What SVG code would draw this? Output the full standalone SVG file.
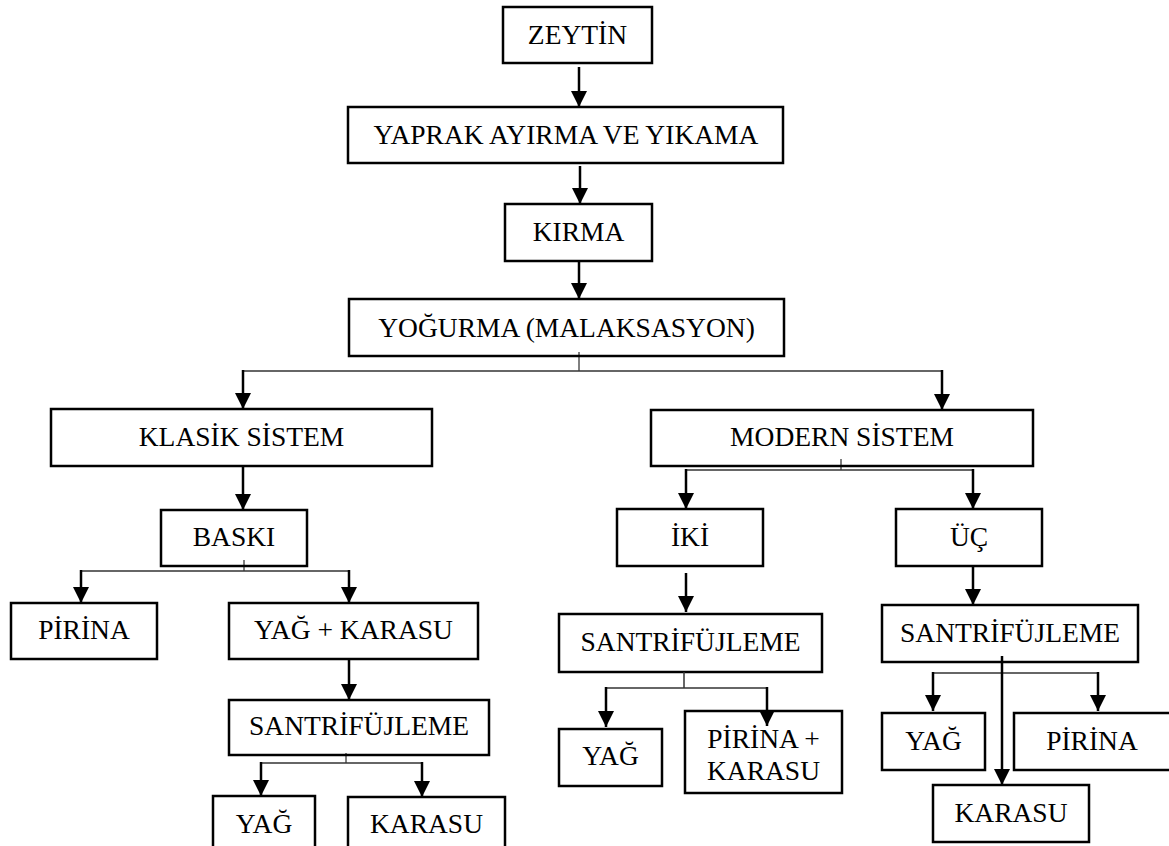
<svg xmlns="http://www.w3.org/2000/svg" width="1169" height="846" viewBox="0 0 1169 846">
<defs>
<style>
.box{fill:#fff;stroke:#000;stroke-width:2.5}
.t{font-family:"Liberation Serif","Times New Roman",serif;font-size:27.5px;text-anchor:middle;fill:#000}
.a{stroke:#000;stroke-width:2.5;fill:none;marker-end:url(#ah)}
.h{stroke:#333;stroke-width:1.5;fill:none}
.tk{stroke:#000;stroke-width:1;fill:none}
</style>
<marker id="ah" markerUnits="userSpaceOnUse" markerWidth="16" markerHeight="16" viewBox="0 0 16 16" refX="16" refY="8" orient="auto">
<path d="M0,0 L16,8 L0,16 z" fill="#000"/>
</marker>
</defs>
<rect width="1169" height="846" fill="#fff"/>
<g id="n-zeytin"><rect class="box" x="503" y="7" width="149" height="56"/><text class="t" x="577.5" y="44">ZEYTİN</text></g>
<g id="n-yaprak"><rect class="box" x="348" y="107" width="435" height="56"/><text class="t" x="566" y="144">YAPRAK AYIRMA VE YIKAMA</text></g>
<g id="n-kirma"><rect class="box" x="505" y="204" width="147" height="57"/><text class="t" x="578.5" y="241">KIRMA</text></g>
<g id="n-yogurma"><rect class="box" x="349" y="299" width="435" height="57"/><text class="t" x="566.5" y="337">YOĞURMA (MALAKSASYON)</text></g>
<g id="n-klasik"><rect class="box" x="51" y="409" width="381" height="57"/><text class="t" x="241.5" y="446">KLASİK SİSTEM</text></g>
<g id="n-modern"><rect class="box" x="651" y="410" width="382" height="56"/><text class="t" x="842" y="446">MODERN SİSTEM</text></g>
<g id="n-baski"><rect class="box" x="161" y="510" width="146" height="56"/><text class="t" x="234" y="546">BASKI</text></g>
<g id="n-iki"><rect class="box" x="617" y="509" width="146" height="57"/><text class="t" x="690" y="546">İKİ</text></g>
<g id="n-uc"><rect class="box" x="896" y="509" width="146" height="57"/><text class="t" x="969" y="546">ÜÇ</text></g>
<g id="n-pirina1"><rect class="box" x="11" y="603" width="146" height="56"/><text class="t" x="84" y="639">PİRİNA</text></g>
<g id="n-yagkarasu"><rect class="box" x="229" y="603" width="249" height="56"/><text class="t" x="353.5" y="639">YAĞ + KARASU</text></g>
<g id="n-santri1"><rect class="box" x="229" y="700" width="260" height="55"/><text class="t" x="359" y="735">SANTRİFÜJLEME</text></g>
<g id="n-santri2"><rect class="box" x="559" y="614" width="263" height="58"/><text class="t" x="690.5" y="651">SANTRİFÜJLEME</text></g>
<g id="n-santri3"><rect class="box" x="882" y="605" width="256" height="57"/><text class="t" x="1010" y="642">SANTRİFÜJLEME</text></g>
<g id="n-yag1"><rect class="box" x="213" y="796" width="102" height="60"/><text class="t" x="264" y="833">YAĞ</text></g>
<g id="n-karasu1"><rect class="box" x="348" y="797" width="157" height="60"/><text class="t" x="426.5" y="833">KARASU</text></g>
<g id="n-yag2"><rect class="box" x="559" y="729" width="103" height="57"/><text class="t" x="610.5" y="765">YAĞ</text></g>
<g id="n-pirinakarasu"><rect class="box" x="685" y="711" width="157" height="82"/><text class="t" x="763.5" y="748">PİRİNA +</text><text class="t" x="763.5" y="780">KARASU</text></g>
<g id="n-yag3"><rect class="box" x="882" y="713" width="103" height="57"/><text class="t" x="933.5" y="750">YAĞ</text></g>
<g id="n-pirina3"><rect class="box" x="1014" y="713" width="160" height="57"/><text class="t" x="1092" y="750">PİRİNA</text></g>
<g id="n-karasu3"><rect class="box" x="933" y="785" width="156" height="57"/><text class="t" x="1011" y="822">KARASU</text></g>
<g id="connectors">
<line class="a" x1="579" y1="67" x2="579" y2="107"/>
<line class="a" x1="580" y1="166" x2="580" y2="204"/>
<line class="a" x1="579" y1="262" x2="579" y2="299"/>
<line class="tk" x1="579" y1="352" x2="579" y2="371"/>
<line class="h" x1="243" y1="371" x2="942" y2="371"/>
<line class="a" x1="243" y1="370" x2="243" y2="409"/>
<line class="a" x1="942" y1="370" x2="942" y2="410"/>
<line class="a" x1="243" y1="466" x2="243" y2="510"/>
<line class="tk" x1="244" y1="560" x2="244" y2="571"/>
<line class="h" x1="81" y1="571" x2="349" y2="571"/>
<line class="a" x1="81" y1="570" x2="81" y2="603"/>
<line class="a" x1="349" y1="570" x2="349" y2="603"/>
<line class="a" x1="349" y1="659" x2="349" y2="700"/>
<line class="tk" x1="346" y1="753" x2="346" y2="763"/>
<line class="h" x1="261" y1="763" x2="422" y2="763"/>
<line class="a" x1="261" y1="762" x2="261" y2="796"/>
<line class="a" x1="422" y1="762" x2="422" y2="797"/>
<line class="tk" x1="841" y1="459" x2="841" y2="470"/>
<line class="h" x1="686" y1="470" x2="973" y2="470"/>
<line class="a" x1="686" y1="469" x2="686" y2="509"/>
<line class="a" x1="973" y1="469" x2="973" y2="509"/>
<line class="a" x1="686" y1="573" x2="686" y2="612"/>
<line class="a" x1="973" y1="566" x2="973" y2="605"/>
<line class="h" x1="684" y1="672" x2="684" y2="688"/>
<line class="h" x1="606" y1="688" x2="767" y2="688"/>
<line class="a" x1="606" y1="687" x2="606" y2="727"/>
<line class="a" x1="767" y1="687" x2="767" y2="726"/>
<line class="h" x1="933" y1="673" x2="1098" y2="673"/>
<line class="a" x1="933" y1="672" x2="933" y2="711"/>
<line class="a" x1="1098" y1="672" x2="1098" y2="711"/>
<line class="a" x1="1002" y1="656" x2="1002" y2="785"/>
</g>
</svg>
